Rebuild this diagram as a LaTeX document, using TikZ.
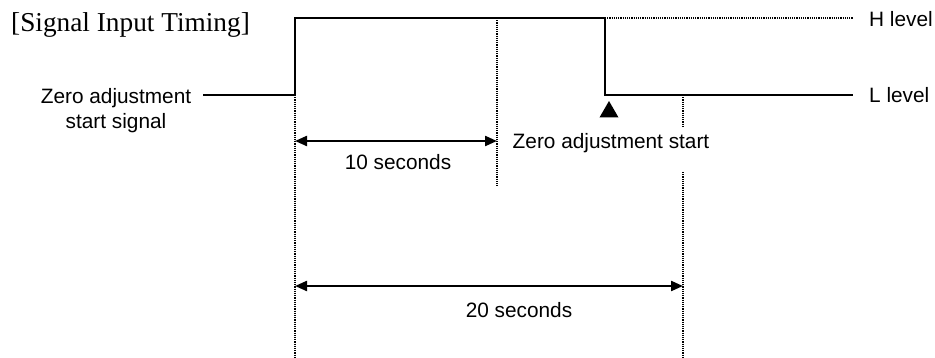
\documentclass[tikz,border=0pt]{standalone}
\usepackage{fontspec}
\setmainfont{Liberation Sans}
\newfontfamily\titlefont{Liberation Serif}
\usetikzlibrary{arrows.meta,shapes.geometric}
\begin{document}
\begin{tikzpicture}[x=1pt,y=-1pt,
  sig/.style={line width=2.6pt, line join=miter},
  guide/.style={line width=1.3pt, dash pattern=on 1.2pt off 1pt},
  dim/.style={line width=2.2pt, {Triangle[length=12pt,width=10pt]}-{Triangle[length=12pt,width=10pt]}},
  txt/.style={font=\fontsize{20.8}{25}\selectfont, inner sep=0pt}]
\useasboundingbox (0,0) rectangle (935,358);
% signal corners
\coordinate (s0) at (203,95);
\coordinate (r0) at (295,95);
\coordinate (r1) at (295,18);
\coordinate (f1) at (605,18);
\coordinate (f0) at (605,95);
\coordinate (s1) at (853,95);
\coordinate (h1) at (853,18);
% guide line ends
\coordinate (g1b) at (295,358);
\coordinate (g2t) at (497,18);
\coordinate (g2b) at (497,187);
\coordinate (g3t) at (683,95);
\coordinate (g3m) at (683,127);
\coordinate (g3n) at (683,172);
\coordinate (g3b) at (683,358);
\coordinate (a1l) at (295,141);
\coordinate (a1r) at (497,141);
\coordinate (a2l) at (295,286);
\coordinate (a2r) at (683,286);
% texts
\node[font=\titlefont\fontsize{27.3}{30}\selectfont, inner sep=0pt, anchor=west] (title) at (11,25) {[Signal Input Timing]};
\node[txt, align=center] (zas) at (116,111) {Zero adjustment\\start signal};
\node[txt, anchor=west] (hlev) at (869,19) {H level};
\node[txt, anchor=west] (llev) at (869,95) {L level};
\node[txt] (zstart) at (611,143) {Zero adjustment start};
\node[txt] (ten) at (398,162) {10 seconds};
\node[txt] (twenty) at (519,310) {20 seconds};
\node[regular polygon, regular polygon sides=3, fill=black, inner sep=0pt, minimum size=22pt] (tri) at (609,112) {};
% guides
\draw[guide] (r0) -- (g1b);
\draw[guide] (g2t) -- (g2b);
\draw[guide] (g3t) -- (g3m);
\draw[guide] (g3n) -- (g3b);
\draw[guide] (f1) -- (h1);
% signal
\draw[sig] (s0) -- (r0) -- (r1) -- (f1) -- (f0) -- (s1);
% dimensions
\draw[dim] (a1l) -- (a1r);
\draw[dim] (a2l) -- (a2r);
\end{tikzpicture}
\end{document}
